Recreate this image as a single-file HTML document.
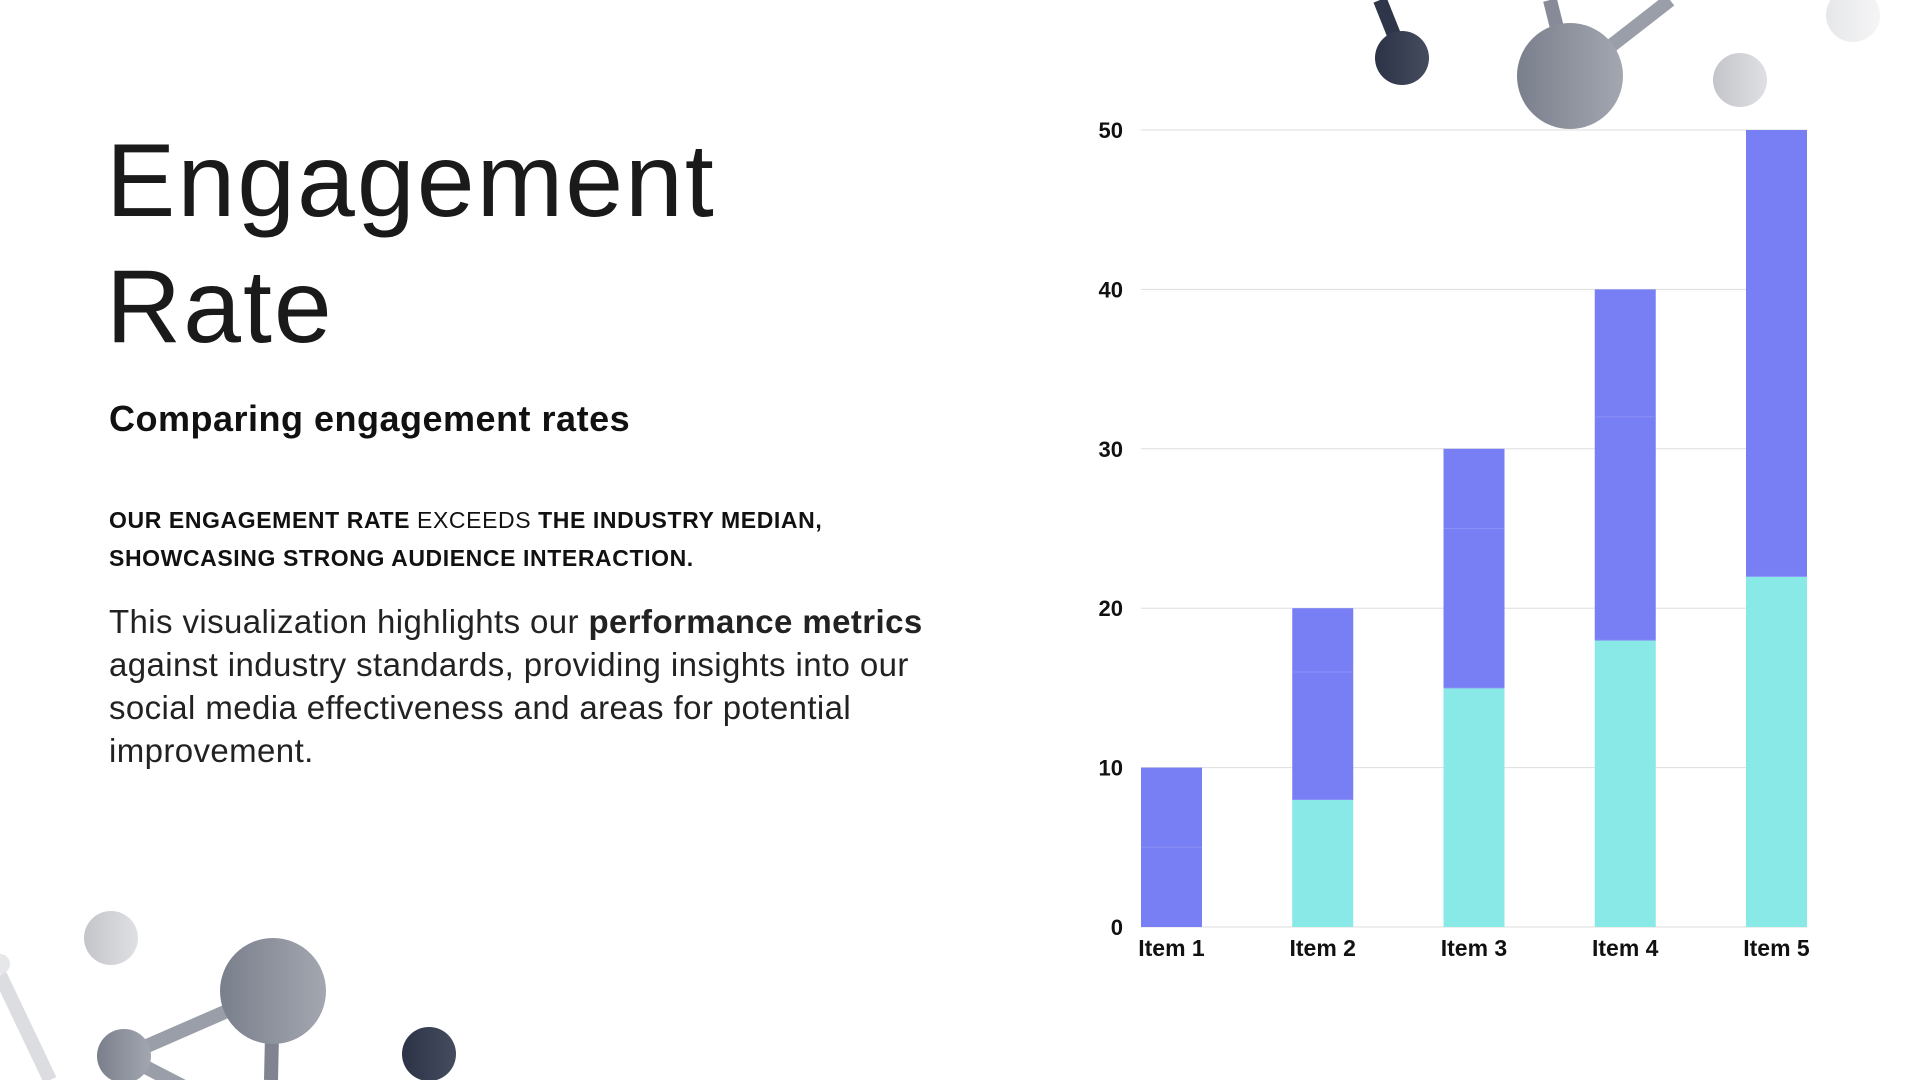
<!DOCTYPE html>
<html><head><meta charset="utf-8"><style>
html,body{margin:0;padding:0;width:1920px;height:1080px;overflow:hidden;background:#fff;font-family:"Liberation Sans",sans-serif;color:#111;}
.abs{position:absolute;margin:0;}
#title{left:106px;top:118px;font-size:104px;font-weight:300;line-height:126px;letter-spacing:2px;color:#1a1a1a;}
#sub{left:109px;top:398px;font-size:36px;font-weight:bold;letter-spacing:0.5px;}
#caps{left:109px;top:501px;font-size:23px;font-weight:bold;line-height:38px;letter-spacing:0.6px;}
#body{left:109px;top:600px;font-size:33px;line-height:43px;white-space:nowrap;color:#222;letter-spacing:0.4px;}
</style></head><body>
<svg class="abs" style="left:0;top:0" width="1920" height="1080">
<defs>
<linearGradient id="gD" x1="0" x2="1"><stop offset="0" stop-color="#2c3347"/><stop offset="1" stop-color="#454c5e"/></linearGradient>
<linearGradient id="gM" x1="0" x2="1"><stop offset="0" stop-color="#7a7f8c"/><stop offset="1" stop-color="#a3a7b0"/></linearGradient>
<linearGradient id="gL" x1="0" x2="1"><stop offset="0" stop-color="#c3c5ca"/><stop offset="1" stop-color="#dfe0e3"/></linearGradient>
<linearGradient id="gVL" x1="0" x2="1"><stop offset="0" stop-color="#e6e7e9"/><stop offset="1" stop-color="#f5f5f6"/></linearGradient>
</defs>
<g>
<line x1="1380" y1="0" x2="1400" y2="50" stroke="#2f3649" stroke-width="14"/>
<circle cx="1402" cy="58" r="27" fill="url(#gD)"/>
<line x1="1550" y1="0" x2="1565" y2="60" stroke="#868b97" stroke-width="14"/>
<line x1="1580" y1="70" x2="1670" y2="0" stroke="#9a9ea8" stroke-width="14"/>
<circle cx="1570" cy="76" r="53" fill="url(#gM)"/>
<circle cx="1740" cy="80" r="27" fill="url(#gL)"/>
<circle cx="1853" cy="15" r="27" fill="url(#gVL)"/>
</g>
<g>
<line x1="0" y1="975" x2="50" y2="1080" stroke="#dcdde0" stroke-width="14"/>
<circle cx="0" cy="964" r="10" fill="#e6e7e9"/>
<circle cx="111" cy="938" r="27" fill="url(#gL)"/>
<line x1="124" y1="1056" x2="273" y2="991" stroke="#9a9ea8" stroke-width="14"/>
<line x1="124" y1="1056" x2="190" y2="1090" stroke="#9a9ea8" stroke-width="14"/>
<line x1="273" y1="991" x2="271" y2="1080" stroke="#7f8490" stroke-width="14"/>
<circle cx="273" cy="991" r="53" fill="url(#gM)"/>
<circle cx="124" cy="1056" r="27" fill="url(#gM)"/>
<circle cx="429" cy="1054" r="27" fill="url(#gD)"/>
</g>
</svg>
<h1 id="title" class="abs">Engagement<br>Rate</h1>
<div id="sub" class="abs">Comparing engagement rates</div>
<div id="caps" class="abs">OUR ENGAGEMENT RATE <span style="font-weight:normal">EXCEEDS</span> THE INDUSTRY MEDIAN,<br>SHOWCASING STRONG AUDIENCE INTERACTION.</div>
<div id="body" class="abs">This visualization highlights our <b>performance metrics</b><br>against industry standards, providing insights into our<br>social media effectiveness and areas for potential<br>improvement.</div>
<svg id="chart" class="abs" style="left:0;top:0" width="1920" height="1080"></svg>
<script>
const categories = ["Item 1","Item 2","Item 3","Item 4","Item 5"];
const seriesA = [0, 8, 15, 18, 22];
const seriesB = [5, 8, 10, 14, 28];
const seriesC = [5, 4, 5, 8, 0];
const yTicks = [0, 10, 20, 30, 40, 50];
const svg = document.getElementById('chart');
const NS = 'http://www.w3.org/2000/svg';
const x0 = 1141, x1 = 1807, yBase = 927, yTop = 130, yMax = 50;
const step = (x1 - x0 - 61) / (categories.length - 1), bw = 61;
const yS = v => yBase - (v / yMax) * (yBase - yTop);
const xS = i => x0 + i * step;
function mk(tag, attrs){const e=document.createElementNS(NS,tag);for(const k in attrs)e.setAttribute(k,attrs[k]);svg.appendChild(e);return e;}
yTicks.forEach(t=>{
  const l = mk('line',{x1:x0,x2:x1,y1:yS(t),y2:yS(t),stroke:'#dedede','stroke-width':1});
  
  
  const tx = mk('text',{x:1123,y:yS(t)+8,'text-anchor':'end','font-size':22,'font-weight':'bold','font-family':'Liberation Sans, sans-serif',fill:'#111'});
  tx.textContent = t;
  
  
});
const series = [[seriesA,'#89e9e7'],[seriesB,'#787ef3'],[seriesC,'#787ef3']];
categories.forEach((c,i)=>{
  let acc = 0;
  series.forEach(([arr,col],si)=>{
    const v = arr[i];
    if(v<=0) return;
    const r = mk('rect',{x:xS(i),y:yS(acc+v),width:bw,height:yS(acc)-yS(acc+v),fill:col});
    
    
    if(acc>0){ const s=mk('line',{x1:xS(i),x2:xS(i)+bw,y1:yS(acc),y2:yS(acc),stroke:'#8a90f5','stroke-width':1});
      
       }
    acc += v;
  });
  const tx = mk('text',{x:xS(i)+bw/2,y:956,'text-anchor':'middle','font-size':23,'font-weight':'bold','font-family':'Liberation Sans, sans-serif',fill:'#111'});
  tx.textContent = c;
  
  
});
</script>
</body></html>
